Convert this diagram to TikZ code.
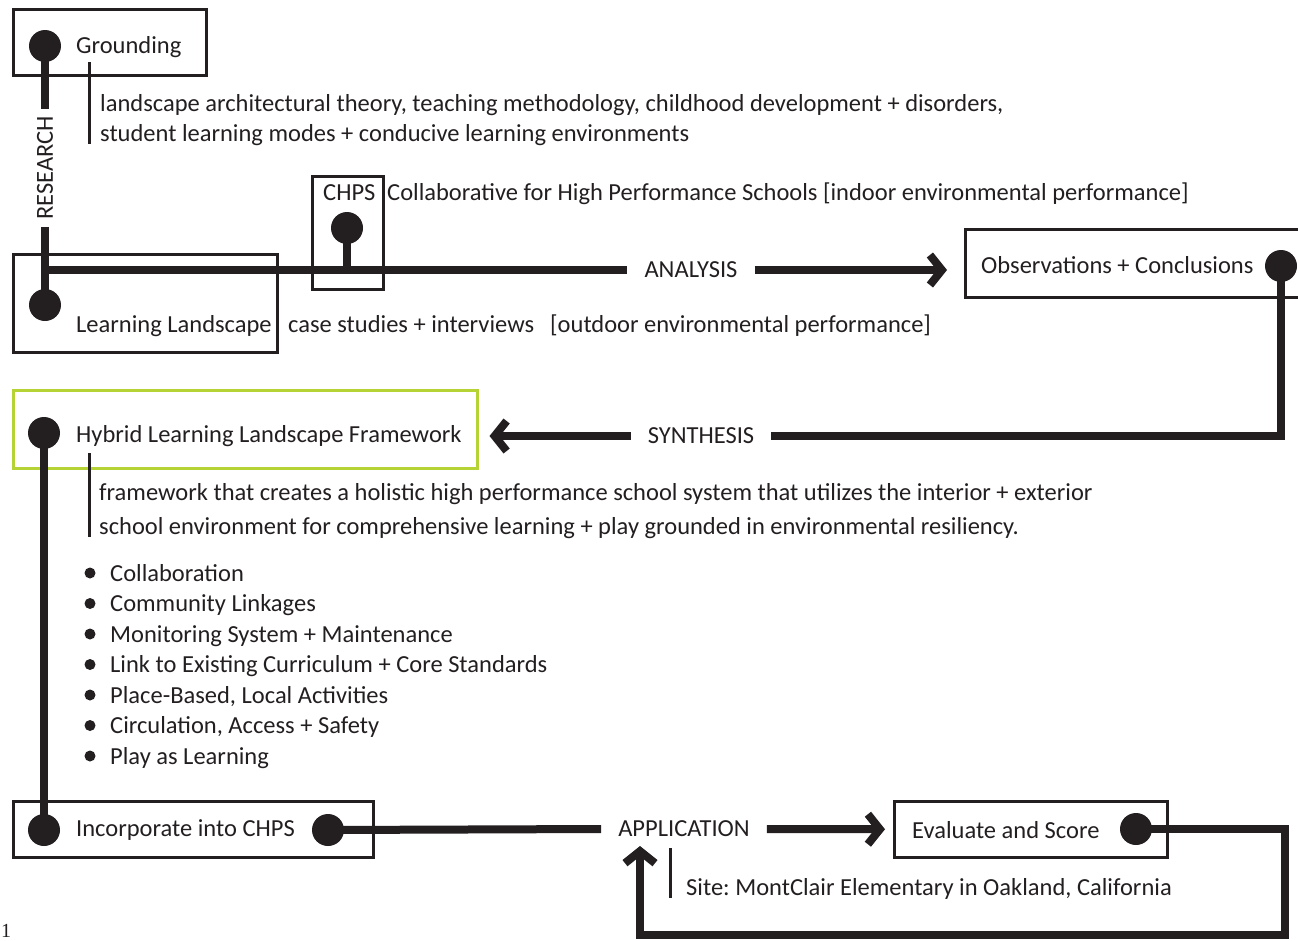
\documentclass[tikz,border=0pt]{standalone}
\usepackage{fontspec}
\setmainfont{Carlito}
\newfontfamily\numfont{Liberation Serif}
\usetikzlibrary{arrows.meta,positioning}
\frenchspacing

\definecolor{ink}{HTML}{231F20}
\definecolor{lime}{HTML}{B5D334}

\tikzset{
  box/.style={draw=ink, line width=2.5pt, anchor=north west, inner sep=0pt},
  dot/.style={circle, fill=ink, inner sep=0pt, minimum size=32pt},
  bullet/.style={circle, fill=ink, inner sep=0pt, minimum size=11pt},
  label/.style={anchor=base west, inner sep=0pt, text=ink},
  stage/.style={anchor=center, inner xsep=17pt, inner ysep=0pt, text=ink},
  flow/.style={draw=ink, line width=8pt, line join=miter},
  arrow/.style={flow, -{Straight Barb[length=12pt,width=30pt,sharp]}},
  tick/.style={draw=ink, line width=3pt}
}

\begin{document}
\begin{tikzpicture}[x=1pt,y=-1pt,font=\fontsize{24.5}{30}\selectfont]

\useasboundingbox (0,0) rectangle (1298,940);

% boxes
\node[box, minimum width=193pt, minimum height=66pt] (grounding) at (12,8) {};
\node[box, minimum width=264pt, minimum height=98pt] (learning) at (12,253) {};
\node[box, minimum width=71pt, minimum height=113pt] (chps) at (311,175) {};
\node[box, minimum width=345pt, minimum height=68pt] (obs) at (964,228) {};
\node[box, draw=lime, minimum width=464pt, minimum height=78pt] (hybrid) at (12,389) {};
\node[box, minimum width=360pt, minimum height=56pt] (incorporate) at (12,800) {};
\node[box, minimum width=273pt, minimum height=56pt] (evaluate) at (893,800) {};

% dots
\foreach \n/\x/\y in {gdot/45/46, ldot/45/305, cdot/347/228, odot/1281/266,
                      hdot/44/433, idot/44/830, jdot/328/830, edot/1136/829}
    \node[dot] (\n) at (\x,\y) {};

% stage names
\node[stage, rotate=90, inner xsep=7pt] (research) at (45,168) {RESEARCH};
\node[stage] (analysis) at (691,270) {ANALYSIS};
\node[stage] (synthesis) at (701,436) {SYNTHESIS};
\node[stage] (application) at (684,829) {APPLICATION};

% labels
\node[label] (groundingtext) at (76,53) {Grounding};
\node[label] (theory1) at (100,111) {landscape architectural theory, teaching methodology, childhood development + disorders,};
\node[label] (theory2) at (100,141) {student learning modes + conducive learning environments};
\node[label] (chpstext) at (323,200) {CHPS};
\node[label] (chpsname) at (387,200) {Collaborative for High Performance Schools [indoor environmental performance]};
\node[label] (learningtext) at (76,332) {Learning Landscape};
\node[label] (cases) at (288,332) {case studies + interviews};
\node[label] (outdoor) at (550,332) {[outdoor environmental performance]};
\node[label] (obstext) at (981,273) {Observations + Conclusions};
\node[label] (hybridtext) at (76,442) {Hybrid Learning Landscape Framework};
\node[label] (frame1) at (99,500) {framework that creates a holistic high performance school system that utilizes the interior + exterior};
\node[label] (frame2) at (99,534) {school environment for comprehensive learning + play grounded in environmental resiliency.};
\node[label] (incorporatetext) at (76,836) {Incorporate into CHPS};
\node[label] (evaluatetext) at (912,838) {Evaluate and Score};
\node[label] (site) at (686,895) {Site: MontClair Elementary in Oakland, California};
\node[label, font=\numfont\fontsize{20}{20}\selectfont] (pagenum) at (1,937) {1};

% framework list
\foreach \item [count=\i] in {Collaboration, Community Linkages,
    Monitoring System + Maintenance,
    Link to Existing Curriculum + Core Standards,
    {Place-Based, Local Activities}, {Circulation, Access + Safety},
    Play as Learning}
{
    \node[bullet] (b\i) at (90,{573+30.5*(\i-1)}) {};
    \node[label] (item\i) at (110,{581+30.5*(\i-1)}) {\item};
}

% text ticks
\draw[tick] (89,62) -- (89,144);
\draw[tick] (89,453) -- (89,537);
\draw[tick] (670,848) -- (670,898);

% research + analysis
\coordinate (lcorner) at (45,270);
\draw[flow] (gdot.center) -- (research.east);
\draw[flow] (research.west) -- (ldot.center);
\draw[flow] (cdot.center) -- (cdot.center |- lcorner);
\draw[flow] (lcorner) -- (analysis.west);
\draw[arrow, shorten >=17pt] (analysis.east) -- (analysis.east -| obs.west);

% synthesis
\draw[flow] (odot.center) |- (synthesis.east);
\draw[arrow, shorten >=11pt] (synthesis.west) -- (synthesis.west -| hybrid.east);

% application
\coordinate (loop) at (1285,935);
\coordinate (apptip) at (640,846);
\draw[flow] (hdot.center) -- (idot.center);
\draw[flow] (jdot.center) -- (application.west);
\draw[arrow, shorten >=8pt] (application.east) -- (evaluate.west);
\draw[arrow] (edot.center) -| (loop) -| (apptip);

\end{tikzpicture}
\end{document}
